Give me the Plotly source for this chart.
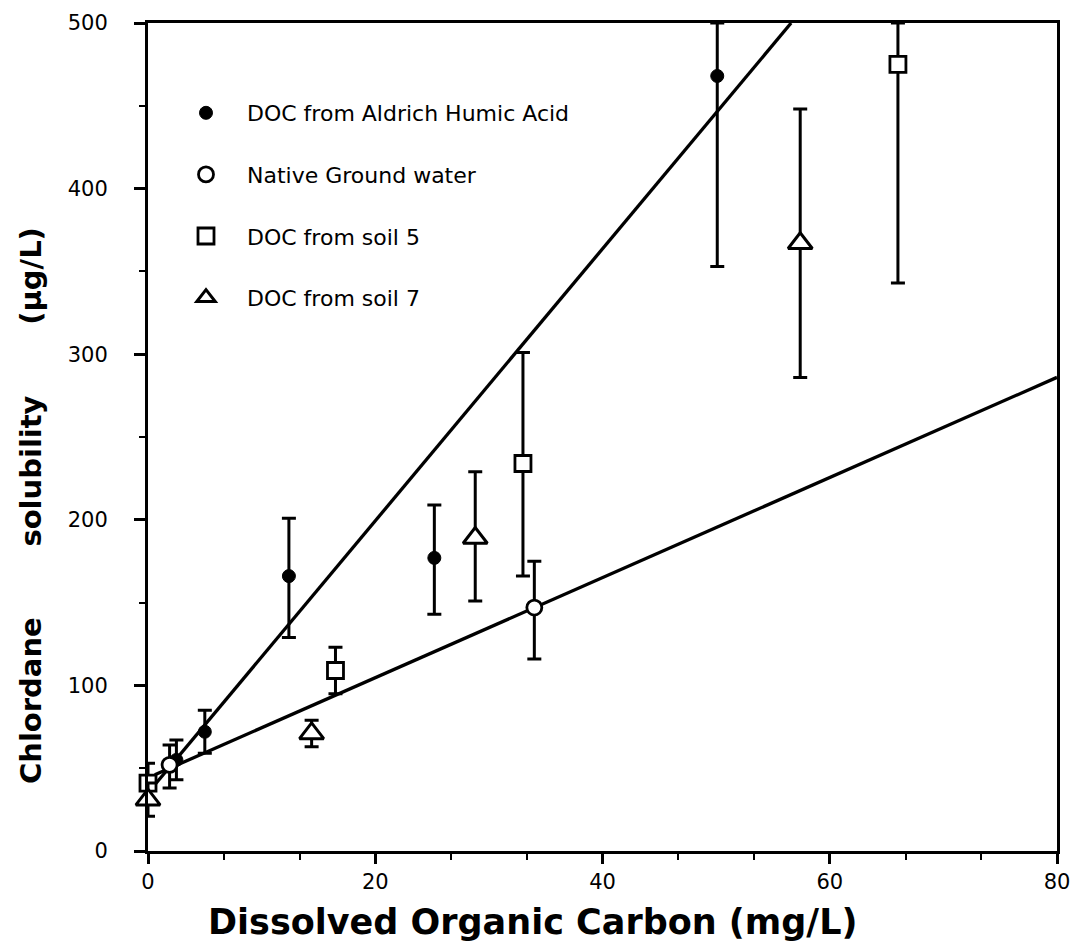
import plotly.graph_objects as go

# ---- data ----
aldrich_x = [2.5, 5.0, 12.4, 25.2, 50.1]
aldrich_y = [55, 72, 166, 177, 468]
aldrich_err_plus = [12, 13, 35, 32, 32]
aldrich_err_minus = [12, 13, 37, 34, 115]

native_x = [1.9, 34.0]
native_y = [52, 147]
native_err_plus = [12, 28]
native_err_minus = [14, 31]

soil5_x = [0.0, 16.5, 33.0, 66.0]
soil5_y = [41, 109, 234, 475]
soil5_err_plus = [12, 14, 67, 25]
soil5_err_minus = [12, 14, 68, 132]

soil7_x = [0.0, 14.4, 28.8, 57.4]
soil7_y = [31, 71, 189, 367]
soil7_err_plus = [10, 8, 40, 81]
soil7_err_minus = [10, 8, 38, 81]

fit_steep_x = [0.6, 56.6]
fit_steep_y = [40, 500]
fit_flat_x = [0.6, 80.0]
fit_flat_y = [46, 286]

names = ["DOC from Aldrich Humic Acid", "Native Ground water",
         "DOC from soil 5", "DOC from soil 7"]

x_ticks = [0, 20, 40, 60, 80]
y_ticks = [0, 100, 200, 300, 400, 500]

fig = go.Figure()

for fx, fy in [(fit_steep_x, fit_steep_y), (fit_flat_x, fit_flat_y)]:
    fig.add_trace(go.Scatter(x=fx, y=fy, mode="lines",
                             line=dict(color="black", width=3.3),
                             showlegend=False, hoverinfo="skip"))

def err(p, m):
    return dict(type="data", symmetric=False, array=p, arrayminus=m,
                color="black", thickness=3, width=7)

fig.add_trace(go.Scatter(
    x=aldrich_x, y=aldrich_y, mode="markers", name=names[0], legendgroup="a",
    marker=dict(symbol="circle", size=13, color="black",
                line=dict(color="black", width=1)),
    error_y=err(aldrich_err_plus, aldrich_err_minus), cliponaxis=False))

fig.add_trace(go.Scatter(
    x=native_x, y=native_y, mode="markers", name=names[1], legendgroup="b",
    marker=dict(symbol="circle", size=15, color="white",
                line=dict(color="black", width=2.8)),
    error_y=err(native_err_plus, native_err_minus), cliponaxis=False))

fig.add_trace(go.Scatter(
    x=soil5_x, y=soil5_y, mode="markers", name=names[2], legendgroup="c",
    marker=dict(symbol="square", size=16, color="white",
                line=dict(color="black", width=2.8)),
    error_y=err(soil5_err_plus, soil5_err_minus), cliponaxis=False))

fig.add_trace(go.Scatter(
    x=soil7_x, y=soil7_y, mode="markers", name=names[3], legendgroup="d",
    marker=dict(symbol="triangle-up", size=21, color="white",
                line=dict(color="black", width=3)),
    error_y=err(soil7_err_plus, soil7_err_minus), cliponaxis=False))

L, R, T, B = 148, 15, 23, 99
W, H = 1072, 950
pw, ph = W - L - R, H - T - B

def px2paper_x(px):
    return (px - L) / pw

def px2paper_y(py):
    return (H - B - py) / ph

tickfont = dict(family="DejaVu Sans", size=21, color="black")
nb = "\u00a0" * 7

fig.update_layout(
    width=W, height=H,
    margin=dict(l=L, r=R, t=T, b=B, autoexpand=False),
    paper_bgcolor="white", plot_bgcolor="white",
    font=dict(family="Liberation Sans", color="black"),
    showlegend=True,
    legend=dict(x=px2paper_x(165), y=px2paper_y(92), xanchor="left", yanchor="top",
                bgcolor="rgba(0,0,0,0)", borderwidth=0,
                font=dict(family="DejaVu Sans", size=22, color="black"),
                itemwidth=72, tracegroupgap=30),
    xaxis=dict(range=[0, 80], tickvals=x_ticks, ticktext=[str(v) for v in x_ticks],
               automargin=False,
               showgrid=False, zeroline=False, showline=True, linewidth=3,
               linecolor="black", mirror=True, ticks="outside", ticklen=10,
               tickwidth=2.5, tickcolor="black", tickfont=tickfont,
               minor=dict(tickvals=[20 / 3 * k for k in range(13)], ticks="outside",
                          ticklen=6, tickwidth=2, tickcolor="black"),
               fixedrange=True),
    yaxis=dict(range=[0, 500], tickvals=y_ticks, ticktext=[str(v) for v in y_ticks],
               automargin=False,
               showgrid=False, zeroline=False, showline=True, linewidth=3,
               linecolor="black", mirror=True, ticks="outside", ticklen=11,
               tickwidth=2.5, tickcolor="black", tickfont=tickfont,
               ticklabelstandoff=22,
               minor=dict(dtick=50, ticks="outside", ticklen=6, tickwidth=2,
                          tickcolor="black"),
               fixedrange=True),
    annotations=[
        dict(text="Dissolved Organic Carbon (mg/L)", xref="paper", yref="paper",
             x=px2paper_x(532), y=px2paper_y(922), xanchor="center", yanchor="middle",
             showarrow=False,
             font=dict(family="DejaVu Sans", size=35, color="black", weight="bold")),
        dict(text="Chlordane" + nb + "solubility" + nb + "(\u00b5g/L)",
             xref="paper", yref="paper", textangle=-90,
             x=px2paper_x(31), y=px2paper_y(506), xanchor="center", yanchor="middle",
             showarrow=False,
             font=dict(family="DejaVu Sans", size=29, color="black", weight="bold")),
    ],
)

fig.write_html("out.html")
